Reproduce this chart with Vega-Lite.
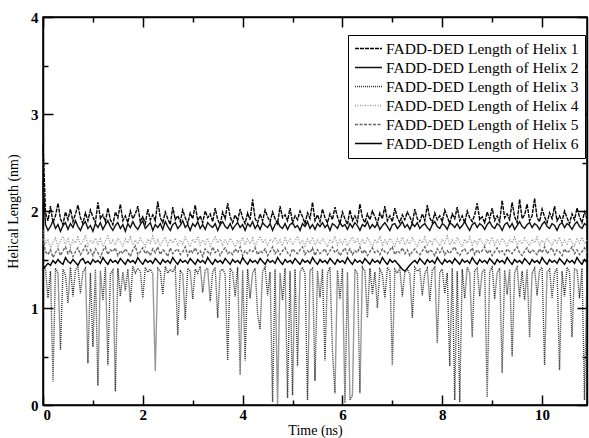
{
"$schema":"https://vega.github.io/schema/vega-lite/v6.json",
"width":544,"height":388,"autosize":"none",
"padding":{"left":43,"top":17,"right":2,"bottom":33},
"data":{"values":[
{"t":0.00,"h1":2.70,"h2":2.30,"h3":1.45,"h4":1.80,"h5":1.72,"h6":1.40},
{"t":0.05,"h1":1.98,"h2":1.86,"h3":1.40,"h4":1.66,"h5":1.58,"h6":1.43},
{"t":0.10,"h1":1.90,"h2":1.80,"h3":1.10,"h4":1.70,"h5":1.55,"h6":1.46},
{"t":0.15,"h1":2.05,"h2":1.84,"h3":1.38,"h4":1.62,"h5":1.60,"h6":1.44},
{"t":0.20,"h1":1.88,"h2":1.90,"h3":0.24,"h4":1.68,"h5":1.52,"h6":1.49},
{"t":0.25,"h1":1.95,"h2":1.82,"h3":1.41,"h4":1.72,"h5":1.57,"h6":1.46},
{"t":0.30,"h1":2.08,"h2":1.86,"h3":1.36,"h4":1.64,"h5":1.61,"h6":1.50},
{"t":0.35,"h1":1.92,"h2":1.79,"h3":0.57,"h4":1.69,"h5":1.54,"h6":1.47},
{"t":0.40,"h1":1.86,"h2":1.85,"h3":1.40,"h4":1.74,"h5":1.59,"h6":1.45},
{"t":0.45,"h1":1.99,"h2":1.88,"h3":1.34,"h4":1.66,"h5":1.63,"h6":1.52},
{"t":0.50,"h1":1.91,"h2":1.81,"h3":1.05,"h4":1.71,"h5":1.56,"h6":1.48},
{"t":0.55,"h1":2.02,"h2":1.87,"h3":1.42,"h4":1.63,"h5":1.60,"h6":1.46},
{"t":0.60,"h1":1.89,"h2":1.83,"h3":1.12,"h4":1.70,"h5":1.53,"h6":1.50},
{"t":0.65,"h1":1.97,"h2":1.90,"h3":1.39,"h4":1.67,"h5":1.58,"h6":1.47},
{"t":0.70,"h1":2.06,"h2":1.84,"h3":1.43,"h4":1.73,"h5":1.62,"h6":1.44},
{"t":0.75,"h1":1.93,"h2":1.80,"h3":1.15,"h4":1.65,"h5":1.55,"h6":1.49},
{"t":0.80,"h1":1.87,"h2":1.86,"h3":1.37,"h4":1.69,"h5":1.59,"h6":1.51},
{"t":0.85,"h1":1.98,"h2":1.89,"h3":1.41,"h4":1.75,"h5":1.64,"h6":1.46},
{"t":0.90,"h1":1.90,"h2":1.82,"h3":0.43,"h4":1.64,"h5":1.56,"h6":1.48},
{"t":0.95,"h1":2.01,"h2":1.85,"h3":1.36,"h4":1.70,"h5":1.60,"h6":1.45},
{"t":1.00,"h1":1.94,"h2":1.79,"h3":0.60,"h4":1.67,"h5":1.54,"h6":1.50},
{"t":1.05,"h1":1.88,"h2":1.87,"h3":1.40,"h4":1.72,"h5":1.61,"h6":1.47},
{"t":1.10,"h1":2.09,"h2":1.83,"h3":0.20,"h4":1.66,"h5":1.57,"h6":1.49},
{"t":1.15,"h1":1.92,"h2":1.88,"h3":1.38,"h4":1.71,"h5":1.52,"h6":1.46},
{"t":1.20,"h1":1.96,"h2":1.81,"h3":1.08,"h4":1.63,"h5":1.59,"h6":1.52},
{"t":1.25,"h1":1.89,"h2":1.86,"h3":1.42,"h4":1.69,"h5":1.63,"h6":1.48},
{"t":1.30,"h1":2.03,"h2":1.90,"h3":0.41,"h4":1.74,"h5":1.55,"h6":1.45},
{"t":1.35,"h1":1.91,"h2":1.84,"h3":1.35,"h4":1.66,"h5":1.60,"h6":1.50},
{"t":1.40,"h1":1.86,"h2":1.80,"h3":1.39,"h4":1.70,"h5":1.58,"h6":1.47},
{"t":1.45,"h1":1.99,"h2":1.85,"h3":0.14,"h4":1.65,"h5":1.62,"h6":1.49},
{"t":1.50,"h1":1.93,"h2":1.88,"h3":1.41,"h4":1.72,"h5":1.54,"h6":1.46},
{"t":1.55,"h1":2.07,"h2":1.82,"h3":1.12,"h4":1.68,"h5":1.59,"h6":1.51},
{"t":1.60,"h1":1.90,"h2":1.86,"h3":1.37,"h4":1.64,"h5":1.56,"h6":1.48},
{"t":1.65,"h1":1.95,"h2":1.79,"h3":1.18,"h4":1.71,"h5":1.61,"h6":1.45},
{"t":1.70,"h1":1.88,"h2":1.87,"h3":1.40,"h4":1.67,"h5":1.57,"h6":1.50},
{"t":1.75,"h1":2.00,"h2":1.83,"h3":1.06,"h4":1.73,"h5":1.53,"h6":1.47},
{"t":1.80,"h1":1.92,"h2":1.89,"h3":1.43,"h4":1.65,"h5":1.60,"h6":1.49},
{"t":1.85,"h1":1.97,"h2":1.84,"h3":1.36,"h4":1.70,"h5":1.64,"h6":1.46},
{"t":1.90,"h1":2.05,"h2":1.81,"h3":1.41,"h4":1.66,"h5":1.55,"h6":1.52},
{"t":1.95,"h1":1.89,"h2":1.86,"h3":1.38,"h4":1.72,"h5":1.58,"h6":1.48},
{"t":2.00,"h1":1.94,"h2":1.90,"h3":1.10,"h4":1.68,"h5":1.62,"h6":1.45},
{"t":2.05,"h1":1.87,"h2":1.82,"h3":1.42,"h4":1.63,"h5":1.56,"h6":1.50},
{"t":2.10,"h1":2.02,"h2":1.85,"h3":1.37,"h4":1.71,"h5":1.59,"h6":1.47},
{"t":2.15,"h1":1.91,"h2":1.88,"h3":1.40,"h4":1.67,"h5":1.54,"h6":1.49},
{"t":2.20,"h1":1.96,"h2":1.80,"h3":1.35,"h4":1.74,"h5":1.61,"h6":1.46},
{"t":2.25,"h1":1.90,"h2":1.86,"h3":0.35,"h4":1.66,"h5":1.57,"h6":1.51},
{"t":2.30,"h1":2.10,"h2":1.83,"h3":1.41,"h4":1.70,"h5":1.63,"h6":1.48},
{"t":2.35,"h1":1.93,"h2":1.87,"h3":1.38,"h4":1.64,"h5":1.55,"h6":1.45},
{"t":2.40,"h1":1.88,"h2":1.81,"h3":1.14,"h4":1.69,"h5":1.60,"h6":1.50},
{"t":2.45,"h1":1.99,"h2":1.89,"h3":1.43,"h4":1.73,"h5":1.58,"h6":1.47},
{"t":2.50,"h1":1.92,"h2":1.84,"h3":1.36,"h4":1.65,"h5":1.53,"h6":1.49},
{"t":2.55,"h1":1.86,"h2":1.80,"h3":1.40,"h4":1.71,"h5":1.62,"h6":1.46},
{"t":2.60,"h1":2.04,"h2":1.86,"h3":1.37,"h4":1.67,"h5":1.56,"h6":1.52},
{"t":2.65,"h1":1.91,"h2":1.88,"h3":1.42,"h4":1.72,"h5":1.59,"h6":1.48},
{"t":2.70,"h1":1.95,"h2":1.82,"h3":0.72,"h4":1.64,"h5":1.61,"h6":1.45},
{"t":2.75,"h1":1.89,"h2":1.85,"h3":1.39,"h4":1.70,"h5":1.55,"h6":1.50},
{"t":2.80,"h1":2.01,"h2":1.90,"h3":1.35,"h4":1.66,"h5":1.58,"h6":1.47},
{"t":2.85,"h1":1.93,"h2":1.83,"h3":0.88,"h4":1.73,"h5":1.63,"h6":1.49},
{"t":2.90,"h1":1.87,"h2":1.86,"h3":1.41,"h4":1.68,"h5":1.54,"h6":1.46},
{"t":2.95,"h1":1.98,"h2":1.80,"h3":1.38,"h4":1.63,"h5":1.60,"h6":1.51},
{"t":3.00,"h1":1.92,"h2":1.87,"h3":1.09,"h4":1.71,"h5":1.57,"h6":1.48},
{"t":3.05,"h1":2.06,"h2":1.84,"h3":1.40,"h4":1.67,"h5":1.62,"h6":1.45},
{"t":3.10,"h1":1.90,"h2":1.89,"h3":1.36,"h4":1.74,"h5":1.56,"h6":1.50},
{"t":3.15,"h1":1.95,"h2":1.82,"h3":1.43,"h4":1.65,"h5":1.59,"h6":1.47},
{"t":3.20,"h1":1.88,"h2":1.86,"h3":1.16,"h4":1.70,"h5":1.53,"h6":1.49},
{"t":3.25,"h1":2.00,"h2":1.81,"h3":1.39,"h4":1.66,"h5":1.61,"h6":1.46},
{"t":3.30,"h1":1.93,"h2":1.88,"h3":1.41,"h4":1.72,"h5":1.58,"h6":1.52},
{"t":3.35,"h1":1.97,"h2":1.85,"h3":1.07,"h4":1.64,"h5":1.55,"h6":1.48},
{"t":3.40,"h1":1.89,"h2":1.83,"h3":1.37,"h4":1.69,"h5":1.63,"h6":1.45},
{"t":3.45,"h1":2.03,"h2":1.87,"h3":1.42,"h4":1.73,"h5":1.57,"h6":1.50},
{"t":3.50,"h1":1.91,"h2":1.80,"h3":0.90,"h4":1.67,"h5":1.60,"h6":1.47},
{"t":3.55,"h1":1.86,"h2":1.86,"h3":1.38,"h4":1.71,"h5":1.54,"h6":1.49},
{"t":3.60,"h1":1.99,"h2":1.89,"h3":1.40,"h4":1.65,"h5":1.59,"h6":1.46},
{"t":3.65,"h1":1.92,"h2":1.84,"h3":1.35,"h4":1.70,"h5":1.62,"h6":1.51},
{"t":3.70,"h1":2.08,"h2":1.82,"h3":0.46,"h4":1.66,"h5":1.56,"h6":1.48},
{"t":3.75,"h1":1.94,"h2":1.87,"h3":1.41,"h4":1.72,"h5":1.58,"h6":1.45},
{"t":3.80,"h1":1.88,"h2":1.81,"h3":1.37,"h4":1.68,"h5":1.55,"h6":1.50},
{"t":3.85,"h1":1.96,"h2":1.85,"h3":1.12,"h4":1.63,"h5":1.61,"h6":1.47},
{"t":3.90,"h1":1.90,"h2":1.88,"h3":1.42,"h4":1.70,"h5":1.57,"h6":1.49},
{"t":3.95,"h1":2.02,"h2":1.83,"h3":0.31,"h4":1.67,"h5":1.63,"h6":1.46},
{"t":4.00,"h1":1.93,"h2":1.86,"h3":1.39,"h4":1.73,"h5":1.54,"h6":1.52},
{"t":4.05,"h1":1.87,"h2":1.80,"h3":0.46,"h4":1.65,"h5":1.59,"h6":1.48},
{"t":4.10,"h1":1.98,"h2":1.87,"h3":1.40,"h4":1.71,"h5":1.56,"h6":1.45},
{"t":4.15,"h1":1.91,"h2":1.84,"h3":1.10,"h4":1.66,"h5":1.60,"h6":1.50},
{"t":4.20,"h1":2.12,"h2":1.89,"h3":1.36,"h4":1.72,"h5":1.58,"h6":1.47},
{"t":4.25,"h1":1.92,"h2":1.82,"h3":1.41,"h4":1.64,"h5":1.62,"h6":1.49},
{"t":4.30,"h1":1.88,"h2":1.86,"h3":0.94,"h4":1.69,"h5":1.55,"h6":1.46},
{"t":4.35,"h1":1.97,"h2":1.81,"h3":0.78,"h4":1.74,"h5":1.59,"h6":1.51},
{"t":4.40,"h1":1.90,"h2":1.88,"h3":1.38,"h4":1.67,"h5":1.57,"h6":1.48},
{"t":4.45,"h1":2.01,"h2":1.85,"h3":1.42,"h4":1.70,"h5":1.61,"h6":1.45},
{"t":4.50,"h1":1.94,"h2":1.83,"h3":1.13,"h4":1.65,"h5":1.54,"h6":1.50},
{"t":4.55,"h1":1.89,"h2":1.87,"h3":1.37,"h4":1.71,"h5":1.58,"h6":1.47},
{"t":4.60,"h1":1.99,"h2":1.80,"h3":0.03,"h4":1.68,"h5":1.63,"h6":1.49},
{"t":4.65,"h1":1.92,"h2":1.86,"h3":1.40,"h4":1.73,"h5":1.56,"h6":1.46},
{"t":4.70,"h1":1.87,"h2":1.89,"h3":0.00,"h4":1.66,"h5":1.60,"h6":1.52},
{"t":4.75,"h1":2.05,"h2":1.84,"h3":1.36,"h4":1.70,"h5":1.55,"h6":1.48},
{"t":4.80,"h1":1.93,"h2":1.82,"h3":1.08,"h4":1.64,"h5":1.59,"h6":1.45},
{"t":4.85,"h1":1.96,"h2":1.87,"h3":1.41,"h4":1.72,"h5":1.62,"h6":1.50},
{"t":4.90,"h1":1.90,"h2":1.81,"h3":0.07,"h4":1.67,"h5":1.57,"h6":1.47},
{"t":4.95,"h1":2.03,"h2":1.86,"h3":1.38,"h4":1.71,"h5":1.54,"h6":1.49},
{"t":5.00,"h1":1.88,"h2":1.88,"h3":0.10,"h4":1.65,"h5":1.61,"h6":1.46},
{"t":5.05,"h1":1.95,"h2":1.83,"h3":1.40,"h4":1.69,"h5":1.58,"h6":1.51},
{"t":5.10,"h1":1.91,"h2":1.85,"h3":0.40,"h4":1.74,"h5":1.56,"h6":1.48},
{"t":5.15,"h1":2.00,"h2":1.80,"h3":1.37,"h4":1.66,"h5":1.60,"h6":1.45},
{"t":5.20,"h1":1.94,"h2":1.87,"h3":1.42,"h4":1.70,"h5":1.63,"h6":1.50},
{"t":5.25,"h1":1.87,"h2":1.84,"h3":1.35,"h4":1.64,"h5":1.55,"h6":1.47},
{"t":5.30,"h1":1.98,"h2":1.89,"h3":0.05,"h4":1.71,"h5":1.59,"h6":1.49},
{"t":5.35,"h1":1.92,"h2":1.82,"h3":1.39,"h4":1.67,"h5":1.57,"h6":1.46},
{"t":5.40,"h1":2.09,"h2":1.86,"h3":1.41,"h4":1.73,"h5":1.62,"h6":1.52},
{"t":5.45,"h1":1.90,"h2":1.81,"h3":0.25,"h4":1.65,"h5":1.54,"h6":1.48},
{"t":5.50,"h1":1.96,"h2":1.87,"h3":1.38,"h4":1.70,"h5":1.60,"h6":1.45},
{"t":5.55,"h1":1.89,"h2":1.84,"h3":1.11,"h4":1.66,"h5":1.56,"h6":1.50},
{"t":5.60,"h1":2.02,"h2":1.88,"h3":1.40,"h4":1.72,"h5":1.58,"h6":1.47},
{"t":5.65,"h1":1.93,"h2":1.83,"h3":0.46,"h4":1.68,"h5":1.61,"h6":1.49},
{"t":5.70,"h1":1.88,"h2":1.86,"h3":1.36,"h4":1.63,"h5":1.55,"h6":1.46},
{"t":5.75,"h1":1.97,"h2":1.80,"h3":1.42,"h4":1.71,"h5":1.59,"h6":1.51},
{"t":5.80,"h1":1.91,"h2":1.87,"h3":0.55,"h4":1.67,"h5":1.63,"h6":1.48},
{"t":5.85,"h1":2.04,"h2":1.85,"h3":0.12,"h4":1.74,"h5":1.57,"h6":1.45},
{"t":5.90,"h1":1.94,"h2":1.82,"h3":1.39,"h4":1.65,"h5":1.60,"h6":1.50},
{"t":5.95,"h1":1.87,"h2":1.88,"h3":1.09,"h4":1.70,"h5":1.54,"h6":1.47},
{"t":6.00,"h1":1.99,"h2":1.84,"h3":1.41,"h4":1.66,"h5":1.58,"h6":1.49},
{"t":6.05,"h1":1.92,"h2":1.86,"h3":0.02,"h4":1.72,"h5":1.62,"h6":1.46},
{"t":6.10,"h1":1.86,"h2":1.81,"h3":1.37,"h4":1.64,"h5":1.56,"h6":1.52},
{"t":6.15,"h1":2.01,"h2":1.87,"h3":0.05,"h4":1.69,"h5":1.61,"h6":1.48},
{"t":6.20,"h1":1.90,"h2":1.83,"h3":0.10,"h4":1.73,"h5":1.55,"h6":1.45},
{"t":6.25,"h1":1.95,"h2":1.88,"h3":1.40,"h4":1.67,"h5":1.59,"h6":1.50},
{"t":6.30,"h1":1.89,"h2":1.85,"h3":1.36,"h4":1.71,"h5":1.57,"h6":1.47},
{"t":6.35,"h1":2.07,"h2":1.80,"h3":0.12,"h4":1.65,"h5":1.63,"h6":1.49},
{"t":6.40,"h1":1.93,"h2":1.86,"h3":1.42,"h4":1.70,"h5":1.56,"h6":1.46},
{"t":6.45,"h1":1.88,"h2":1.84,"h3":1.38,"h4":1.66,"h5":1.60,"h6":1.51},
{"t":6.50,"h1":1.97,"h2":1.89,"h3":0.90,"h4":1.72,"h5":1.54,"h6":1.48},
{"t":6.55,"h1":1.91,"h2":1.82,"h3":1.41,"h4":1.68,"h5":1.58,"h6":1.45},
{"t":6.60,"h1":2.00,"h2":1.86,"h3":1.14,"h4":1.63,"h5":1.62,"h6":1.50},
{"t":6.65,"h1":1.94,"h2":1.83,"h3":1.37,"h4":1.71,"h5":1.57,"h6":1.47},
{"t":6.70,"h1":1.87,"h2":1.87,"h3":1.00,"h4":1.67,"h5":1.59,"h6":1.49},
{"t":6.75,"h1":1.98,"h2":1.81,"h3":1.40,"h4":1.74,"h5":1.55,"h6":1.46},
{"t":6.80,"h1":1.92,"h2":1.85,"h3":1.35,"h4":1.65,"h5":1.61,"h6":1.52},
{"t":6.85,"h1":2.05,"h2":1.88,"h3":1.10,"h4":1.70,"h5":1.58,"h6":1.48},
{"t":6.90,"h1":1.90,"h2":1.84,"h3":1.42,"h4":1.66,"h5":1.56,"h6":1.45},
{"t":6.95,"h1":1.95,"h2":1.80,"h3":1.38,"h4":1.72,"h5":1.60,"h6":1.50},
{"t":7.00,"h1":1.89,"h2":1.86,"h3":0.41,"h4":1.68,"h5":1.63,"h6":1.47},
{"t":7.05,"h1":2.03,"h2":1.87,"h3":1.40,"h4":1.64,"h5":1.55,"h6":1.49},
{"t":7.10,"h1":1.93,"h2":1.82,"h3":1.36,"h4":1.71,"h5":1.59,"h6":1.46},
{"t":7.15,"h1":1.88,"h2":1.85,"h3":1.41,"h4":1.67,"h5":1.57,"h6":1.43},
{"t":7.20,"h1":1.96,"h2":1.89,"h3":1.12,"h4":1.73,"h5":1.62,"h6":1.40},
{"t":7.25,"h1":1.91,"h2":1.83,"h3":1.37,"h4":1.65,"h5":1.56,"h6":1.38},
{"t":7.30,"h1":1.99,"h2":1.86,"h3":1.40,"h4":1.70,"h5":1.60,"h6":1.41},
{"t":7.35,"h1":1.94,"h2":1.81,"h3":1.35,"h4":1.66,"h5":1.54,"h6":1.44},
{"t":7.40,"h1":1.87,"h2":1.87,"h3":0.90,"h4":1.72,"h5":1.58,"h6":1.47},
{"t":7.45,"h1":2.02,"h2":1.84,"h3":1.42,"h4":1.68,"h5":1.61,"h6":1.49},
{"t":7.50,"h1":1.92,"h2":1.88,"h3":1.38,"h4":1.63,"h5":1.57,"h6":1.46},
{"t":7.55,"h1":1.89,"h2":1.82,"h3":1.40,"h4":1.71,"h5":1.55,"h6":1.51},
{"t":7.60,"h1":1.97,"h2":1.85,"h3":1.13,"h4":1.67,"h5":1.59,"h6":1.48},
{"t":7.65,"h1":1.90,"h2":1.87,"h3":1.36,"h4":1.73,"h5":1.63,"h6":1.45},
{"t":7.70,"h1":2.06,"h2":1.83,"h3":1.41,"h4":1.65,"h5":1.56,"h6":1.50},
{"t":7.75,"h1":1.93,"h2":1.80,"h3":1.07,"h4":1.70,"h5":1.60,"h6":1.47},
{"t":7.80,"h1":1.88,"h2":1.86,"h3":1.39,"h4":1.66,"h5":1.58,"h6":1.49},
{"t":7.85,"h1":1.98,"h2":1.89,"h3":1.42,"h4":1.72,"h5":1.54,"h6":1.46},
{"t":7.90,"h1":1.91,"h2":1.84,"h3":0.64,"h4":1.68,"h5":1.61,"h6":1.52},
{"t":7.95,"h1":1.95,"h2":1.82,"h3":1.37,"h4":1.64,"h5":1.57,"h6":1.48},
{"t":8.00,"h1":1.89,"h2":1.87,"h3":1.40,"h4":1.71,"h5":1.62,"h6":1.45},
{"t":8.05,"h1":2.01,"h2":1.85,"h3":1.15,"h4":1.67,"h5":1.55,"h6":1.50},
{"t":8.10,"h1":1.94,"h2":1.81,"h3":1.36,"h4":1.74,"h5":1.59,"h6":1.47},
{"t":8.15,"h1":1.87,"h2":1.88,"h3":0.40,"h4":1.65,"h5":1.56,"h6":1.49},
{"t":8.20,"h1":1.97,"h2":1.86,"h3":1.41,"h4":1.70,"h5":1.60,"h6":1.46},
{"t":8.25,"h1":1.92,"h2":1.83,"h3":0.05,"h4":1.66,"h5":1.63,"h6":1.51},
{"t":8.30,"h1":2.04,"h2":1.87,"h3":1.38,"h4":1.72,"h5":1.57,"h6":1.48},
{"t":8.35,"h1":1.90,"h2":1.82,"h3":0.03,"h4":1.68,"h5":1.54,"h6":1.45},
{"t":8.40,"h1":1.95,"h2":1.85,"h3":1.40,"h4":1.63,"h5":1.59,"h6":1.50},
{"t":8.45,"h1":1.88,"h2":1.89,"h3":1.10,"h4":1.71,"h5":1.61,"h6":1.47},
{"t":8.50,"h1":2.00,"h2":1.84,"h3":1.42,"h4":1.67,"h5":1.56,"h6":1.49},
{"t":8.55,"h1":1.93,"h2":1.80,"h3":1.36,"h4":1.73,"h5":1.58,"h6":1.46},
{"t":8.60,"h1":1.89,"h2":1.86,"h3":0.70,"h4":1.65,"h5":1.62,"h6":1.52},
{"t":8.65,"h1":1.96,"h2":1.88,"h3":1.39,"h4":1.70,"h5":1.55,"h6":1.48},
{"t":8.70,"h1":2.08,"h2":1.83,"h3":1.41,"h4":1.66,"h5":1.60,"h6":1.45},
{"t":8.75,"h1":1.91,"h2":1.87,"h3":1.12,"h4":1.72,"h5":1.57,"h6":1.50},
{"t":8.80,"h1":1.94,"h2":1.85,"h3":1.37,"h4":1.68,"h5":1.59,"h6":1.47},
{"t":8.85,"h1":1.88,"h2":1.81,"h3":1.40,"h4":1.64,"h5":1.63,"h6":1.49},
{"t":8.90,"h1":1.99,"h2":1.86,"h3":0.08,"h4":1.71,"h5":1.56,"h6":1.46},
{"t":8.95,"h1":1.92,"h2":1.89,"h3":1.38,"h4":1.67,"h5":1.60,"h6":1.51},
{"t":9.00,"h1":2.03,"h2":1.84,"h3":1.42,"h4":1.73,"h5":1.54,"h6":1.48},
{"t":9.05,"h1":1.90,"h2":1.82,"h3":1.09,"h4":1.65,"h5":1.58,"h6":1.45},
{"t":9.10,"h1":1.95,"h2":1.87,"h3":1.36,"h4":1.70,"h5":1.62,"h6":1.50},
{"t":9.15,"h1":1.89,"h2":1.85,"h3":1.41,"h4":1.66,"h5":1.57,"h6":1.47},
{"t":9.20,"h1":2.11,"h2":1.80,"h3":0.33,"h4":1.72,"h5":1.59,"h6":1.49},
{"t":9.25,"h1":1.93,"h2":1.86,"h3":1.39,"h4":1.68,"h5":1.55,"h6":1.46},
{"t":9.30,"h1":1.97,"h2":1.88,"h3":1.14,"h4":1.63,"h5":1.61,"h6":1.52},
{"t":9.35,"h1":1.91,"h2":1.83,"h3":1.40,"h4":1.71,"h5":1.58,"h6":1.48},
{"t":9.40,"h1":2.09,"h2":1.87,"h3":0.50,"h4":1.67,"h5":1.56,"h6":1.45},
{"t":9.45,"h1":1.94,"h2":1.81,"h3":1.37,"h4":1.73,"h5":1.60,"h6":1.50},
{"t":9.50,"h1":1.88,"h2":1.85,"h3":1.42,"h4":1.65,"h5":1.63,"h6":1.47},
{"t":9.55,"h1":2.12,"h2":1.89,"h3":1.11,"h4":1.70,"h5":1.57,"h6":1.49},
{"t":9.60,"h1":1.92,"h2":1.84,"h3":1.38,"h4":1.66,"h5":1.54,"h6":1.46},
{"t":9.65,"h1":1.96,"h2":1.82,"h3":1.08,"h4":1.72,"h5":1.59,"h6":1.51},
{"t":9.70,"h1":2.07,"h2":1.86,"h3":1.40,"h4":1.68,"h5":1.62,"h6":1.48},
{"t":9.75,"h1":1.90,"h2":1.88,"h3":0.70,"h4":1.64,"h5":1.56,"h6":1.45},
{"t":9.80,"h1":1.95,"h2":1.83,"h3":1.36,"h4":1.71,"h5":1.60,"h6":1.50},
{"t":9.85,"h1":2.13,"h2":1.87,"h3":1.41,"h4":1.67,"h5":1.58,"h6":1.47},
{"t":9.90,"h1":1.93,"h2":1.85,"h3":1.13,"h4":1.73,"h5":1.55,"h6":1.49},
{"t":9.95,"h1":1.89,"h2":1.81,"h3":1.39,"h4":1.65,"h5":1.61,"h6":1.46},
{"t":10.00,"h1":2.02,"h2":1.86,"h3":1.42,"h4":1.70,"h5":1.57,"h6":1.52},
{"t":10.05,"h1":1.94,"h2":1.89,"h3":0.41,"h4":1.66,"h5":1.63,"h6":1.48},
{"t":10.10,"h1":1.88,"h2":1.84,"h3":1.37,"h4":1.72,"h5":1.56,"h6":1.45},
{"t":10.15,"h1":1.98,"h2":1.82,"h3":1.40,"h4":1.68,"h5":1.59,"h6":1.50},
{"t":10.20,"h1":1.92,"h2":1.87,"h3":1.10,"h4":1.64,"h5":1.62,"h6":1.47},
{"t":10.25,"h1":2.05,"h2":1.85,"h3":1.36,"h4":1.71,"h5":1.55,"h6":1.49},
{"t":10.30,"h1":1.90,"h2":1.80,"h3":1.41,"h4":1.67,"h5":1.60,"h6":1.46},
{"t":10.35,"h1":1.95,"h2":1.86,"h3":0.36,"h4":1.73,"h5":1.58,"h6":1.51},
{"t":10.40,"h1":1.89,"h2":1.88,"h3":1.38,"h4":1.65,"h5":1.54,"h6":1.48},
{"t":10.45,"h1":2.00,"h2":1.83,"h3":1.12,"h4":1.70,"h5":1.61,"h6":1.45},
{"t":10.50,"h1":1.93,"h2":1.87,"h3":1.42,"h4":1.66,"h5":1.57,"h6":1.50},
{"t":10.55,"h1":1.87,"h2":1.85,"h3":1.37,"h4":1.72,"h5":1.59,"h6":1.47},
{"t":10.60,"h1":1.97,"h2":1.81,"h3":0.70,"h4":1.68,"h5":1.63,"h6":1.49},
{"t":10.65,"h1":1.91,"h2":1.86,"h3":1.40,"h4":1.64,"h5":1.56,"h6":1.46},
{"t":10.70,"h1":2.03,"h2":1.89,"h3":1.39,"h4":1.71,"h5":1.60,"h6":1.52},
{"t":10.75,"h1":1.94,"h2":1.84,"h3":1.10,"h4":1.67,"h5":1.55,"h6":1.48},
{"t":10.80,"h1":1.88,"h2":1.82,"h3":1.41,"h4":1.73,"h5":1.58,"h6":1.45},
{"t":10.85,"h1":1.99,"h2":1.87,"h3":0.05,"h4":1.66,"h5":1.62,"h6":1.50},
{"t":10.90,"h1":1.92,"h2":1.85,"h3":1.38,"h4":1.70,"h5":1.57,"h6":1.47}
]},
"transform":[{"fold":["h1","h2","h3","h4","h5","h6"],"as":["k","v"]}],
"layer":[
{"mark":{"type":"line","strokeJoin":"miter"},
 "encoding":{
  "x":{"field":"t","type":"quantitative","scale":{"domain":[0,10.9],"nice":false,"zero":false},
       "axis":{"values":[0,2,4,6,8,10],"title":"Time (ns)","tickSize":-10,"labelPadding":12,"labelFontSize":15,"labelFontWeight":"bold","titleFontSize":14,"titlePadding":1,"format":"d"}},
  "y":{"field":"v","type":"quantitative","scale":{"domain":[0,4],"nice":false},
       "axis":{"values":[0,1,2,3,4],"title":"Helical Length (nm)","tickSize":-10,"labelPadding":15,"labelFontSize":15,"labelFontWeight":"bold","titleFontSize":14,"titlePadding":10,"format":"d"}},
  "color":{"field":"k","type":"nominal",
    "scale":{"domain":["h1","h2","h3","h4","h5","h6"],"range":["#000000","#111111","#333333","#999999","#666666","#000000"]},
    "legend":{"title":null,"orient":"none","legendX":305,"legendY":18,"strokeColor":"black","fillColor":"white","padding":6,
      "labelExpr":"'FADD-DED Length of Helix ' + substring(datum.label, 1)","labelFont":"Liberation Serif","labelFontSize":15.5,"labelColor":"black",
      "symbolType":"stroke","symbolSize":729,"clipHeight":15,"rowPadding":3,"labelOffset":3,"labelLimit":400}},
  "strokeDash":{"field":"k","type":"nominal","scale":{"domain":["h1","h2","h3","h4","h5","h6"],"range":[[4,1],[1,0],[1,1],[1,1.5],[3,1.5],[1,0]]}},
  "strokeWidth":{"field":"k","type":"nominal","scale":{"domain":["h1","h2","h3","h4","h5","h6"],"range":[1.4,1.4,1.2,1.2,1.2,2.2]}}
 }},
{"mark":{"type":"point","opacity":0},
 "encoding":{
  "x":{"field":"t","type":"quantitative","scale":{"domain":[0,10.9],"nice":false,"zero":false},
       "axis":{"orient":"bottom","values":[1,3,5,7,9],"tickSize":-5,"labels":false,"domain":false,"title":null}},
  "y":{"field":"v","type":"quantitative","scale":{"domain":[0,4],"nice":false},
       "axis":{"orient":"left","values":[0.5,1.5,2.5,3.5],"tickSize":-5,"labels":false,"domain":false,"title":null}}
 }},
{"mark":{"type":"point","opacity":0},
 "encoding":{
  "x":{"field":"t","type":"quantitative","scale":{"domain":[0,10.9],"nice":false,"zero":false},
       "axis":{"orient":"top","values":[0,2,4,6,8,10],"tickSize":-10,"labels":false,"title":null}},
  "y":{"field":"v","type":"quantitative","scale":{"domain":[0,4],"nice":false},
       "axis":{"orient":"right","values":[0,1,2,3,4],"tickSize":-10,"labels":false,"title":null}}
 }},
{"mark":{"type":"point","opacity":0},
 "encoding":{
  "x":{"field":"t","type":"quantitative","scale":{"domain":[0,10.9],"nice":false,"zero":false},
       "axis":{"orient":"top","values":[1,3,5,7,9],"tickSize":-5,"labels":false,"domain":false,"title":null}},
  "y":{"field":"v","type":"quantitative","scale":{"domain":[0,4],"nice":false},
       "axis":{"orient":"right","values":[0.5,1.5,2.5,3.5],"tickSize":-5,"labels":false,"domain":false,"title":null}}
 }}
],
"resolve":{"axis":{"x":"independent","y":"independent"}},
"config":{
 "font":"Liberation Serif",
 "view":{"stroke":"black","strokeWidth":1.5},
 "axis":{"grid":false,"domainColor":"black","domainWidth":1.5,"tickColor":"black","tickWidth":1.5,"labelColor":"black","titleColor":"black","labelFont":"Liberation Serif","titleFont":"Liberation Serif","titleFontWeight":"normal"}
}
}
